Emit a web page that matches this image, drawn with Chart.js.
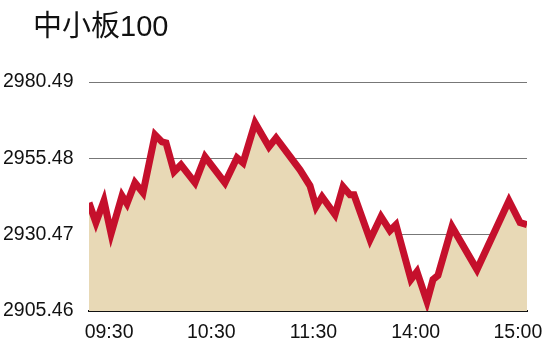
<!DOCTYPE html>
<html>
<head>
<meta charset="utf-8">
<script src="https://cdn.jsdelivr.net/npm/chart.js"></script>
<style>
  html, body { margin: 0; padding: 0; background: #fff; }
</style>
</head>
<body>
<canvas id="idxChart" width="550" height="346"></canvas>
<script>
// 数据
var titleText = "中小板100";
var times = [0, 3.8, 8.2, 12.1, 18.1, 20.8, 25.2, 29.6, 36.2, 40.0, 42.2, 46.6, 50.4, 58.1,
  63.6, 74.5, 81.1, 84.4, 91.0, 98.6, 102.5, 115.6, 121.1, 124.4, 127.7, 134.8, 139.2,
  143.0, 145.2, 154.0, 160.0, 164.9, 168.2, 176.4, 179.7, 185.2, 188.5, 191.2, 198.9,
  212.6, 230.1, 236.2, 240];
var values = [2940.93, 2934.40, 2941.59, 2930.80, 2943.22, 2940.61, 2947.47, 2944.20,
  2963.16, 2960.88, 2960.55, 2951.07, 2953.36, 2947.47, 2955.97, 2947.47, 2955.65,
  2954.01, 2967.09, 2959.24, 2962.18, 2951.72, 2946.49, 2939.63, 2942.90, 2937.01,
  2946.17, 2943.55, 2943.55, 2928.84, 2936.36, 2931.78, 2933.74, 2915.76, 2918.38,
  2908.57, 2915.76, 2917.07, 2933.09, 2919.03, 2941.59, 2934.40, 2933.74];
var yTicks = [2905.46, 2930.47, 2955.48, 2980.49];
var xLabels = ["09:30", "10:30", "11:30", "14:00", "15:00"];

var tickFont = { family: "'Liberation Sans', Arial, sans-serif", size: 19.5 };

// 标题
var titlePlugin = {
  id: "titleText",
  afterDraw: function (chart) {
    var c = chart.ctx;
    c.save();
    c.fillStyle = "#111";
    c.font = "29px 'Liberation Sans', 'Noto Sans CJK SC', sans-serif";
    c.textBaseline = "middle";
    c.textAlign = "left";
    c.fillText(titleText, 33, 28);
    c.restore();
  }
};

var ctx = document.getElementById("idxChart").getContext("2d");
new Chart(ctx, {
  type: "line",
  data: {
    datasets: [{
      data: times.map(function (t, i) { return { x: t, y: values[i] }; }),
      borderColor: "#c5102c",
      backgroundColor: "#e8d9b6",
      borderWidth: 7,
      fill: "start",
      pointRadius: 0,
      tension: 0
    }]
  },
  options: {
    responsive: false,
    animation: false,
    devicePixelRatio: 1,
    layout: { padding: { left: 3, right: 23, top: 82, bottom: 0 } },
    plugins: { legend: { display: false }, tooltip: { enabled: false } },
    scales: {
      x: {
        type: "linear",
        min: 0,
        max: 240,
        z: 1,
        grid: { display: false },
        border: { display: true, color: "#111", width: 2 },
        afterFit: function (s) { s.height = 35; },
        afterBuildTicks: function (s) {
          s.ticks = xLabels.map(function (l, i) { return { value: 11 + i * 56 }; });
        },
        ticks: {
          autoSkip: false,
          maxRotation: 0,
          padding: 2,
          color: "#111",
          font: tickFont,
          callback: function (v, i) { return xLabels[i]; }
        }
      },
      y: {
        min: yTicks[0],
        max: yTicks[yTicks.length - 1],
        grid: { color: "#777", lineWidth: 1, drawTicks: false },
        border: { display: false },
        afterFit: function (s) { s.width = 86; },
        afterBuildTicks: function (s) {
          s.ticks = yTicks.map(function (v) { return { value: v }; });
        },
        ticks: {
          crossAlign: "far",
          color: "#111",
          font: tickFont,
          callback: function (v) { return v.toFixed(2); }
        }
      }
    }
  },
  plugins: [titlePlugin]
});
</script>
</body>
</html>
